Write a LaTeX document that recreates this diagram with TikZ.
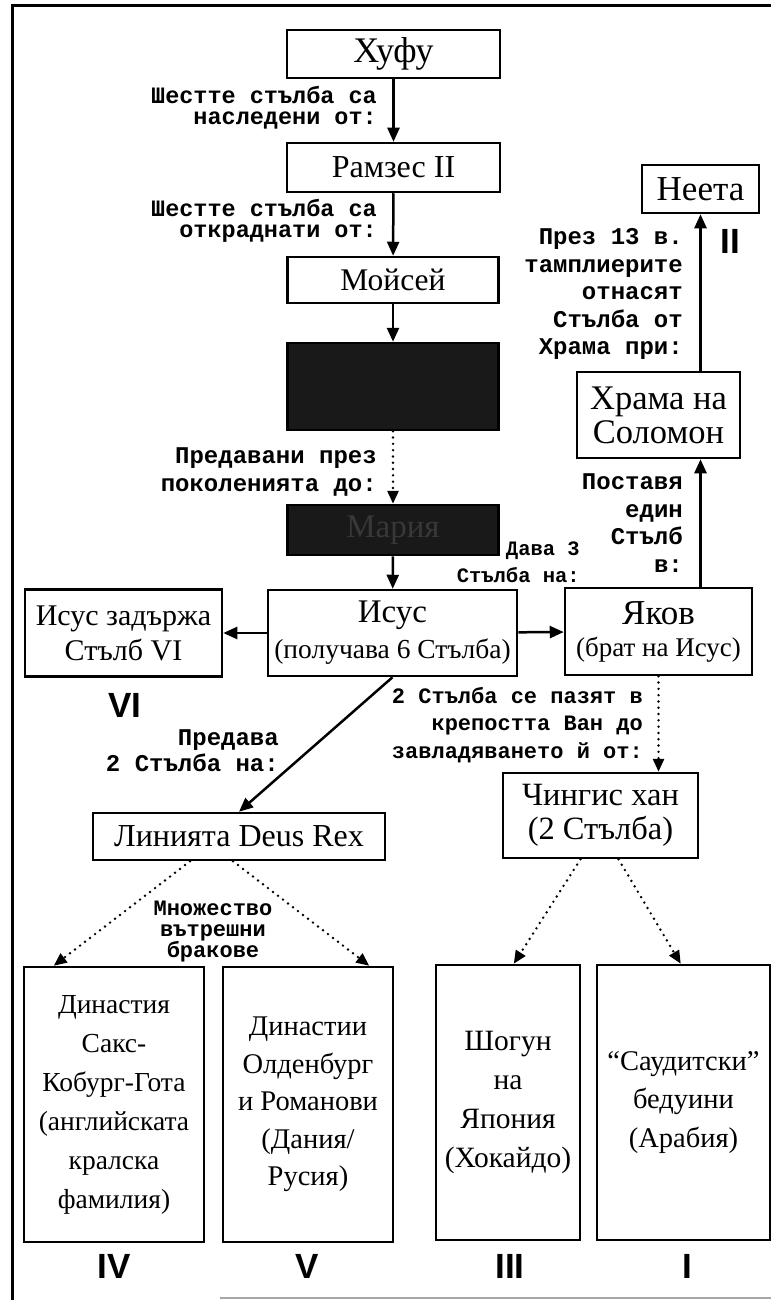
\documentclass[tikz,border=0pt]{standalone}
\usepackage{fontspec}
\setmainfont{Liberation Serif}
\setmonofont{Liberation Mono}
\newfontfamily\numfont{Liberation Sans}
\usetikzlibrary{arrows.meta,calc}
\newcommand{\fsz}[2]{\fontsize{#1}{#2}\selectfont}
\tikzset{
  box/.style={draw, line width=2.5pt, fill=white, inner sep=0pt, align=center,
    font=\fsz{33}{35}},
  lowbox/.style={box, font=\fsz{28}{38.5}},
  darkbox/.style={box, fill=black!90, text=black!78},
  arr/.style={line width=2.5pt, -{Triangle[length=14pt,width=12pt]}},
  dotarr/.style={line width=2.7pt, line cap=round, dash pattern=on 0pt off 6.3pt,
    -{Triangle[length=13pt,width=11pt]}},
  lab/.style={inner sep=0pt, align=right, anchor=east,
    font=\ttfamily\bfseries\fsz{23.5}{21}},
  labwide/.style={lab, font=\ttfamily\bfseries\fsz{24}{27.5}},
  roman/.style={inner sep=0pt, font=\numfont\bfseries\fsz{35}{35}},
  frame/.style={line width=3pt}
}
\begin{document}
\begin{tikzpicture}[x=1pt,y=-1pt]
\useasboundingbox (0,0) rectangle (771,1300);
% frame
\coordinate (ftl) at (12,6);
\coordinate (ftr) at (771,6);
\coordinate (fbl) at (12,1300);
\coordinate (fbr1) at (220,1298);
\coordinate (fbr2) at (771,1298);
\draw[frame] (ftr) -- (ftl) -- (fbl);
\draw[line width=1.2pt, black!35] (fbr1) -- (fbr2);

% main column
\node[box, font=\fsz{36}{36}, minimum width=213pt, minimum height=48pt] (chufu) at (393.5,54) {Хуфу};
\node[box, font=\fsz{32}{35}, minimum width=213pt, minimum height=49pt] (ramses) at (393.5,167.5) {Рамзес II};
\node[box, font=\fsz{31.5}{35}, minimum width=211pt, minimum height=46pt] (moses) at (393,280) {Мойсей};
\node[darkbox, minimum width=211pt, minimum height=87pt] (hidden) at (393,386.5) {};
\node[darkbox, minimum width=211pt, minimum height=50pt] (maria) at (393,530) {Мария};
\node[box, minimum width=249pt, minimum height=86pt] (isus) at (392.5,633)
  {Исус\\[1pt]{\fsz{27.5}{30}(получава 6 Стълба)}};
\node[box, font=\fsz{30}{35}, minimum width=197pt, minimum height=87pt] (isusz) at (123.5,633) {Исус задържа\\Стълб VI};
\node[box, minimum width=187pt, minimum height=87pt] (jakov) at (658.5,631.5)
  {{\fsz{35}{35}Яков}\\[-3pt]{\fsz{27}{30}(брат на Исус)}};
\node[box, font=\fsz{34.5}{34}, minimum width=163pt, minimum height=86pt] (hram) at (658.5,415) {Храма на\\Соломон};
\node[box, font=\fsz{35}{35}, minimum width=117pt, minimum height=48pt] (neeta) at (700.5,189) {Неета};
\node[box, font=\fsz{32.5}{34}, minimum width=195pt, minimum height=85pt] (chingis) at (600.5,815.5) {Чингис хан\\(2 Стълба)};
\node[box, font=\fsz{32}{35}, minimum width=292pt, minimum height=47pt] (linia) at (239,836.5) {Линията Deus Rex};

% bottom boxes
\node[lowbox, font=\fsz{27.5}{39}, minimum width=180pt, minimum height=275pt] (d4) at (114,1104.5)
  {Династия\\Сакс-\\Кобург-Гота\\(английската\\кралска\\фамилия)};
\node[lowbox, font=\fsz{28.5}{37.5}, minimum width=170pt, minimum height=275pt] (d5) at (308,1104.5)
  {Династии\\Олденбург\\и Романови\\(Дания/\\Русия)};
\node[lowbox, font=\fsz{29.5}{39}, minimum width=144pt, minimum height=275pt] (d3) at (508,1102.5)
  {Шогун\\на\\Япония\\(Хокайдо)};
\node[lowbox, font=\fsz{28.5}{38.5}, minimum width=173pt, minimum height=275pt] (d1) at (683.5,1102.5)
  {“Саудитски”\\бедуини\\(Арабия)};

% connectors
\draw[arr] (chufu) -- (ramses);
\draw[arr] (ramses) -- (moses);
\draw[arr] (moses) -- (hidden);
\draw[dotarr] (hidden) -- (maria);
\draw[arr] (maria) -- (isus);
\draw[arr] (isus) -- (isusz);
\draw[arr] (isus) -- (jakov);
\draw[arr] (jakov.north -| neeta.south) -- (hram.south -| neeta.south);
\draw[arr] (hram.north -| neeta.south) -- (neeta.south);
\draw[dotarr] (jakov.south) -- (jakov.south |- chingis.north);
\draw[arr] (isus.south) -- (linia.north);
\draw[dotarr] ($(linia.south)+(-49,0)$) -- ($(d4.north west)+(31,0)$);
\draw[dotarr] ($(linia.south)+(-6,0)$) -- ($(d5.north east)+(-25,0)$);
\draw[dotarr] ($(chingis.south)+(-20,0)$) -- ($(d3.north west)+(79,0)$);
\draw[dotarr] ($(chingis.south)+(18,0)$) -- ($(d1.north west)+(85,0)$);

% labels
\node[lab] (l1) at (377,108) {Шестте стълба са\\наследени от:};
\node[lab] (l2) at (377,221) {Шестте стълба са\\откраднати от:};
\node[labwide] (l3) at (377,472) {Предавани през\\поколенията до:};
\node[lab, font=\ttfamily\bfseries\fsz{20.5}{27}] (l4) at (580,562) {Дава 3\\Стълба на:};
\node[labwide] (l5) at (683,294) {През 13 в.\\тамплиерите\\отнасят\\Стълба от\\Храма при:};
\node[labwide] (l6) at (683,523) {Поставя\\един\\Стълб\\в:};
\node[lab, font=\ttfamily\bfseries\fsz{22}{27.5}] (l7) at (643,725) {2 Стълба се пазят в\\крепостта Ван до\\завладяването й от:};
\node[labwide, font=\ttfamily\bfseries\fsz{24}{26}] (l8) at (279,751) {Предава\\2 Стълба на:};
\node[inner sep=0pt, align=center, font=\ttfamily\bfseries\fsz{22}{21}] (l9) at (213,932) {Множество\\вътрешни\\бракове};

% roman numerals
\node[roman] (rVI) at (125,705) {VI};
\node[roman] (rII) at (730,241) {II};
\node[roman] (rIV) at (114,1266) {IV};
\node[roman] (rV) at (307,1266) {V};
\node[roman] (rIII) at (510,1266) {III};
\node[roman] (rI) at (687,1266) {I};
\end{tikzpicture}
\end{document}
